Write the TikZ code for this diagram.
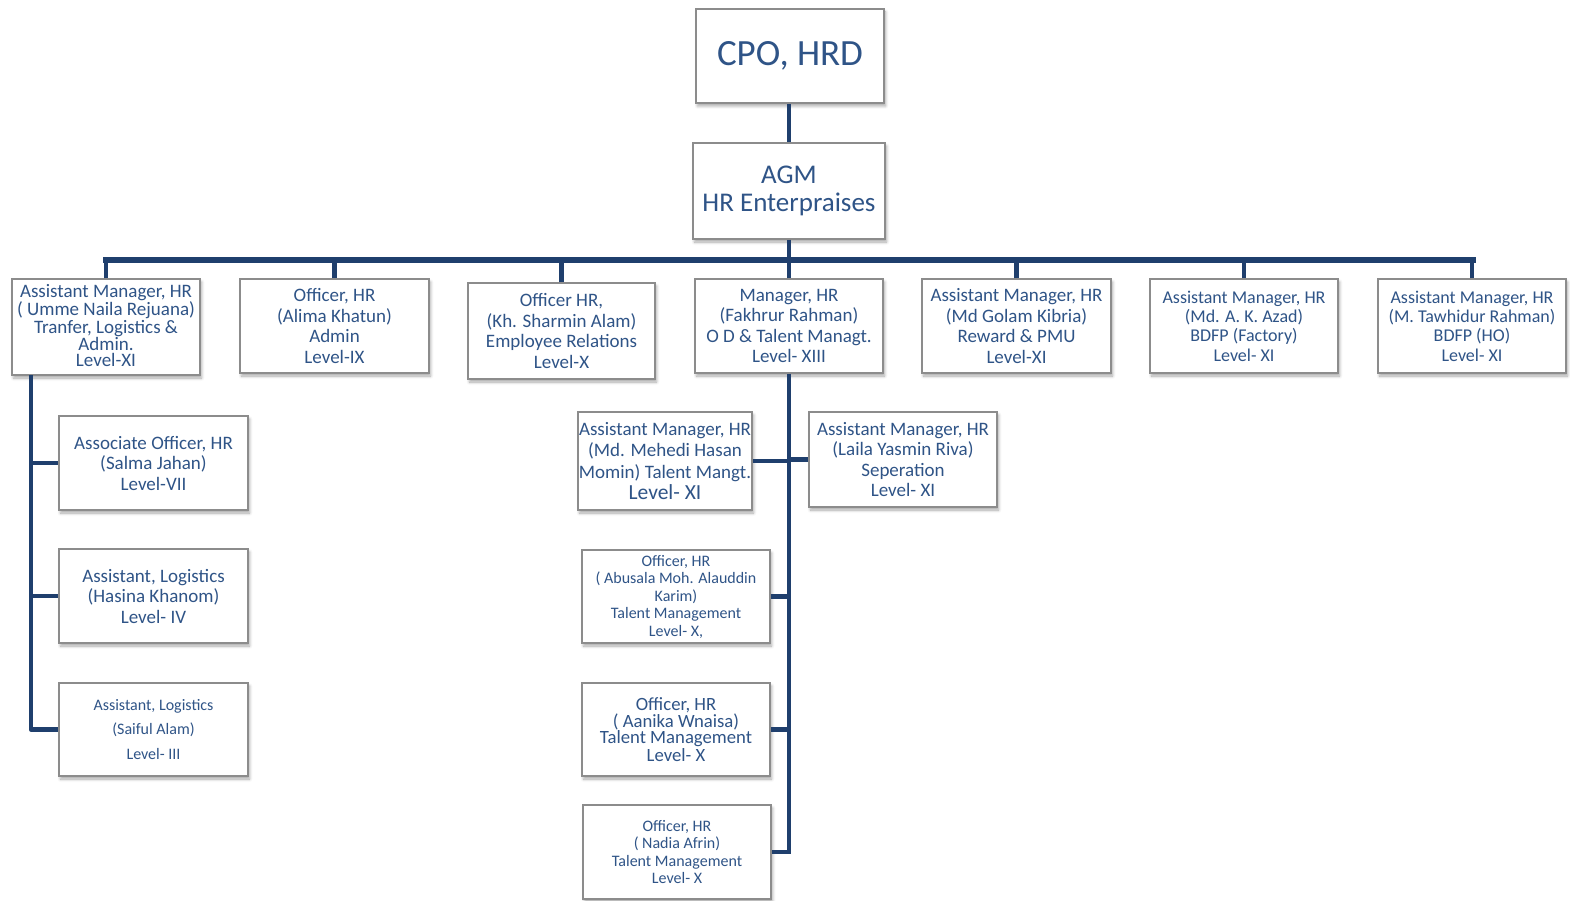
\documentclass[tikz,border=0pt]{standalone}
\usepackage{fontspec}
\setmainfont{Carlito}
\usetikzlibrary{shadows.blur}
\definecolor{txtblue}{HTML}{2F5487}
\definecolor{linenavy}{HTML}{1F3F6D}
\definecolor{boxgray}{HTML}{8C8C8C}
\newcommand{\fs}[2]{\fontsize{#1}{#2}\selectfont}
\tikzset{
  box/.style={draw=boxgray, line width=1.5pt, fill=white, text=txtblue,
    align=center, inner sep=0pt, font={\fs{19}{20.5}},
    blur shadow={shadow xshift=1.5pt, shadow yshift=-3pt, shadow blur radius=3pt,
      shadow blur steps=6, shadow opacity=35}},
  conn/.style={draw=linenavy, line width=4.5pt},
  busline/.style={draw=linenavy, line width=5.5pt}
}
\begin{document}
\begin{tikzpicture}[x=1pt,y=-1pt]
\useasboundingbox (0,0) rectangle (1570,901);

% top of the chart
\node[box, minimum width=188pt, minimum height=94pt, font={\fs{37}{40}}] (cpo) at (790,56) {CPO, HRD};
\node[box, minimum width=192pt, minimum height=96pt, font={\fs{27}{28}}] (agm) at (789,191) {AGM\\HR Enterpraises};

% first row under the AGM
\node[box, minimum width=188pt, minimum height=96pt, font={\fs{19}{16}}] (b1) at (106,327)
  {Assistant Manager, HR\\( Umme Naila Rejuana)\\Tranfer, Logistics \&\\Admin.\\Level-XI\vspace*{3pt}};
\node[box, minimum width=189pt, minimum height=94pt] (b2) at (334.5,326)
  {Officer, HR\\(Alima Khatun)\\Admin\\Level-IX};
\node[box, minimum width=187pt, minimum height=96pt] (b3) at (561.5,331)
  {Officer HR,\\(Kh. Sharmin Alam)\\Employee Relations\\Level-X};
\node[box, minimum width=188pt, minimum height=94pt] (b4) at (789,326)
  {Manager, HR\\(Fakhrur Rahman)\\O D \& Talent Managt.\\Level- XIII};
\node[box, minimum width=189pt, minimum height=94pt] (b5) at (1016.5,326)
  {Assistant Manager, HR\\(Md Golam Kibria)\\Reward \& PMU\\Level-XI};
\node[box, minimum width=188pt, minimum height=94pt, font={\fs{18}{19.3}}] (b6) at (1244,326)
  {Assistant Manager, HR\\(Md. A. K. Azad)\\BDFP (Factory)\\Level- XI};
\node[box, minimum width=188pt, minimum height=94pt, font={\fs{18}{19.3}}] (b7) at (1472,326)
  {Assistant Manager, HR\\(M. Tawhidur Rahman)\\BDFP (HO)\\Level- XI};

% transfer, logistics and admin team
\node[box, minimum width=189pt, minimum height=94pt] (l1) at (153.5,463)
  {Associate Officer, HR\\(Salma Jahan)\\Level-VII};
\node[box, minimum width=189pt, minimum height=94pt] (l2) at (153.5,596)
  {Assistant, Logistics\\(Hasina Khanom)\\Level- IV};
\node[box, minimum width=189pt, minimum height=93pt, font={\fs{16}{24.5}}] (l3) at (153.5,729.5)
  {Assistant, Logistics\\(Saiful Alam)\\Level- III};

% O D and talent management team
\node[box, minimum width=174pt, minimum height=98pt, font={\fs{19}{21.5}}] (m1) at (665,461)
  {Assistant Manager, HR\\(Md. Mehedi Hasan\\Momin) Talent Mangt.\\{\fs{21.5}{22}Level- XI}};
\node[box, minimum width=188pt, minimum height=95pt] (r1) at (903,459.5)
  {Assistant Manager, HR\\(Laila Yasmin Riva)\\Seperation\\Level- XI};
\node[box, minimum width=188pt, minimum height=93pt, font={\fs{16}{17.5}}] (m2) at (676,596.5)
  {Officer, HR\\( Abusala Moh. Alauddin\\Karim)\\Talent Management\\Level- X,};
\node[box, minimum width=188pt, minimum height=93pt, font={\fs{18.7}{16}}] (m3) at (676,729.5)
  {Officer, HR\\( Aanika Wnaisa)\\Talent Management\\Level- X};
\node[box, minimum width=188pt, minimum height=94pt, font={\fs{16}{17.5}}] (m4) at (677,852)
  {Officer, HR\\( Nadia Afrin)\\Talent Management\\Level- X};

% connectors
\coordinate (busL) at (106,260);
\coordinate (busR) at (1473,260);
\coordinate (lbus) at (31,375);

\draw[conn] (agm.north) -- (agm.north |- cpo.south);
\draw[conn] (agm.south) -- (agm.south |- busL);
\draw[busline, line cap=rect] (busL) -- (busR);
\foreach \b in {b1,b2,b3,b4,b5,b6,b7}
  \draw[conn] (\b.north) -- (\b.north |- busL);

\draw[conn, line join=round] (lbus) -- (lbus |- l3.west) -- (l3.west);
\draw[conn] (lbus |- l1.west) -- (l1.west);
\draw[conn] (lbus |- l2.west) -- (l2.west);

\draw[conn, line join=miter] (b4.south) -- (b4.south |- m4.east) -- (m4.east);
\draw[conn] (m1.east) -- (m1.east -| b4.south);
\draw[conn] (r1.west) -- (r1.west -| b4.south);
\draw[conn] (m2.east) -- (m2.east -| b4.south);
\draw[conn] (m3.east) -- (m3.east -| b4.south);
\end{tikzpicture}
\end{document}
